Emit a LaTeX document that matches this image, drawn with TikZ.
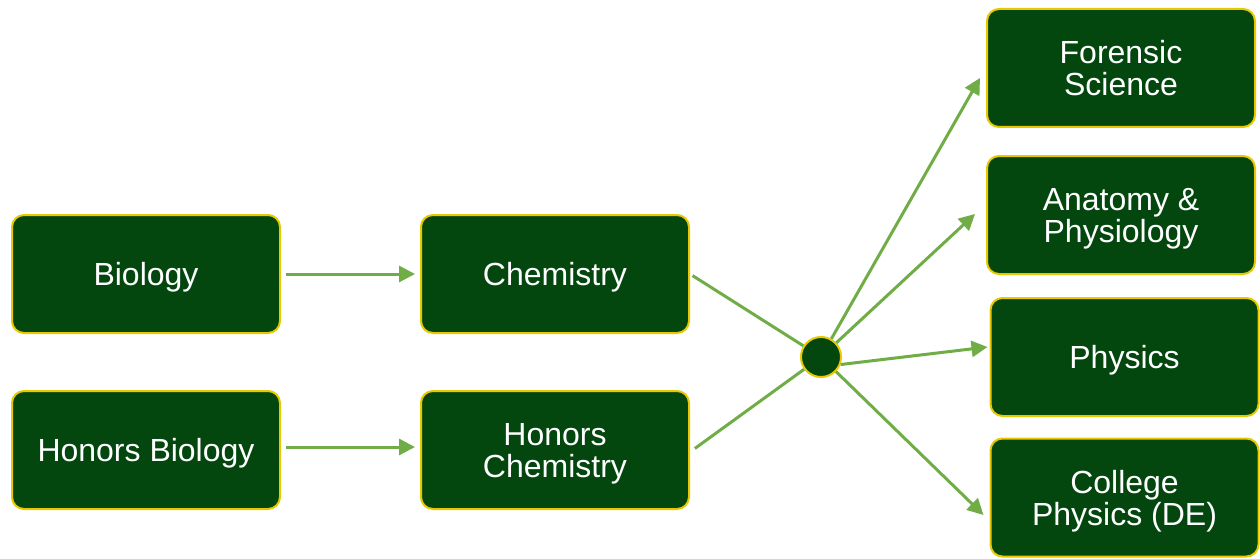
\documentclass[tikz,border=0pt]{standalone}
\usepackage{fontspec}
\setmainfont{Liberation Sans}
\usetikzlibrary{arrows.meta,calc}
\definecolor{boxfill}{HTML}{03470F}
\definecolor{boxline}{HTML}{E8C800}
\definecolor{linkgreen}{HTML}{70AD47}
\newcommand{\nodepth}[1]{\raisebox{0pt}[\height][0pt]{#1}}
\tikzset{
  course/.style={rectangle, rounded corners=12pt, draw=boxline, line width=2pt,
    fill=boxfill, text=white, minimum width=268pt, minimum height=118pt,
    align=center, font=\fontsize{32}{32}\selectfont, inner sep=0pt},
  hubnode/.style={circle, draw=boxline, line width=2pt, fill=boxfill,
    minimum size=40pt, inner sep=0pt},
  link/.style={draw=linkgreen, line width=3pt},
  arrowlink/.style={link, -{Triangle[length=16pt,width=16pt]}},
}
\begin{document}
\begin{tikzpicture}[x=1pt,y=-1pt]
\useasboundingbox (0,0) rectangle (1260,559);
\node[course] (bio) at (146,274) {\nodepth{Biology}};
\node[course] (hbio) at (146,450) {\nodepth{Honors Biology}};
\node[course] (chem) at (555,274) {\nodepth{Chemistry}};
\node[course] (hchem) at (555,450) {Honors\\\nodepth{Chemistry}};
\node[course] (fs) at (1121,68) {Forensic\\\nodepth{Science}};
\node[course] (an) at (1121,215) {Anatomy \&\\\nodepth{Physiology}};
\node[course] (ph) at (1124.5,357) {\nodepth{Physics}};
\node[course] (co) at (1124.5,497.5) {College\\\nodepth{Physics (DE)}};
\node[hubnode] (hub) at (821,357) {};
\coordinate (fsin) at ($(fs.west)+(-6,10)$);
\coordinate (anin) at ($(an.west)+(-11,-1)$);
\coordinate (phin) at ($(ph.west)+(-2,-10)$);
\coordinate (coin) at ($(co.west)+(-6,17.5)$);
\draw[arrowlink, shorten <=5pt, shorten >=5pt] (bio.east) -- (chem.west);
\draw[arrowlink, shorten <=5pt, shorten >=5pt] ($(hbio.east)+(0,-3)$) -- ($(hchem.west)+(0,-3)$);
\draw[link, shorten <=3pt] (chem.east) -- (hub);
\draw[link, shorten <=6pt] ($(hchem.east)+(0,2)$) -- (hub);
\draw[arrowlink] (hub) -- (fsin);
\draw[arrowlink] (hub) -- (anin);
\draw[arrowlink] (hub.-21) -- (phin);
\draw[arrowlink] (hub) -- (coin);
\end{tikzpicture}
\end{document}
